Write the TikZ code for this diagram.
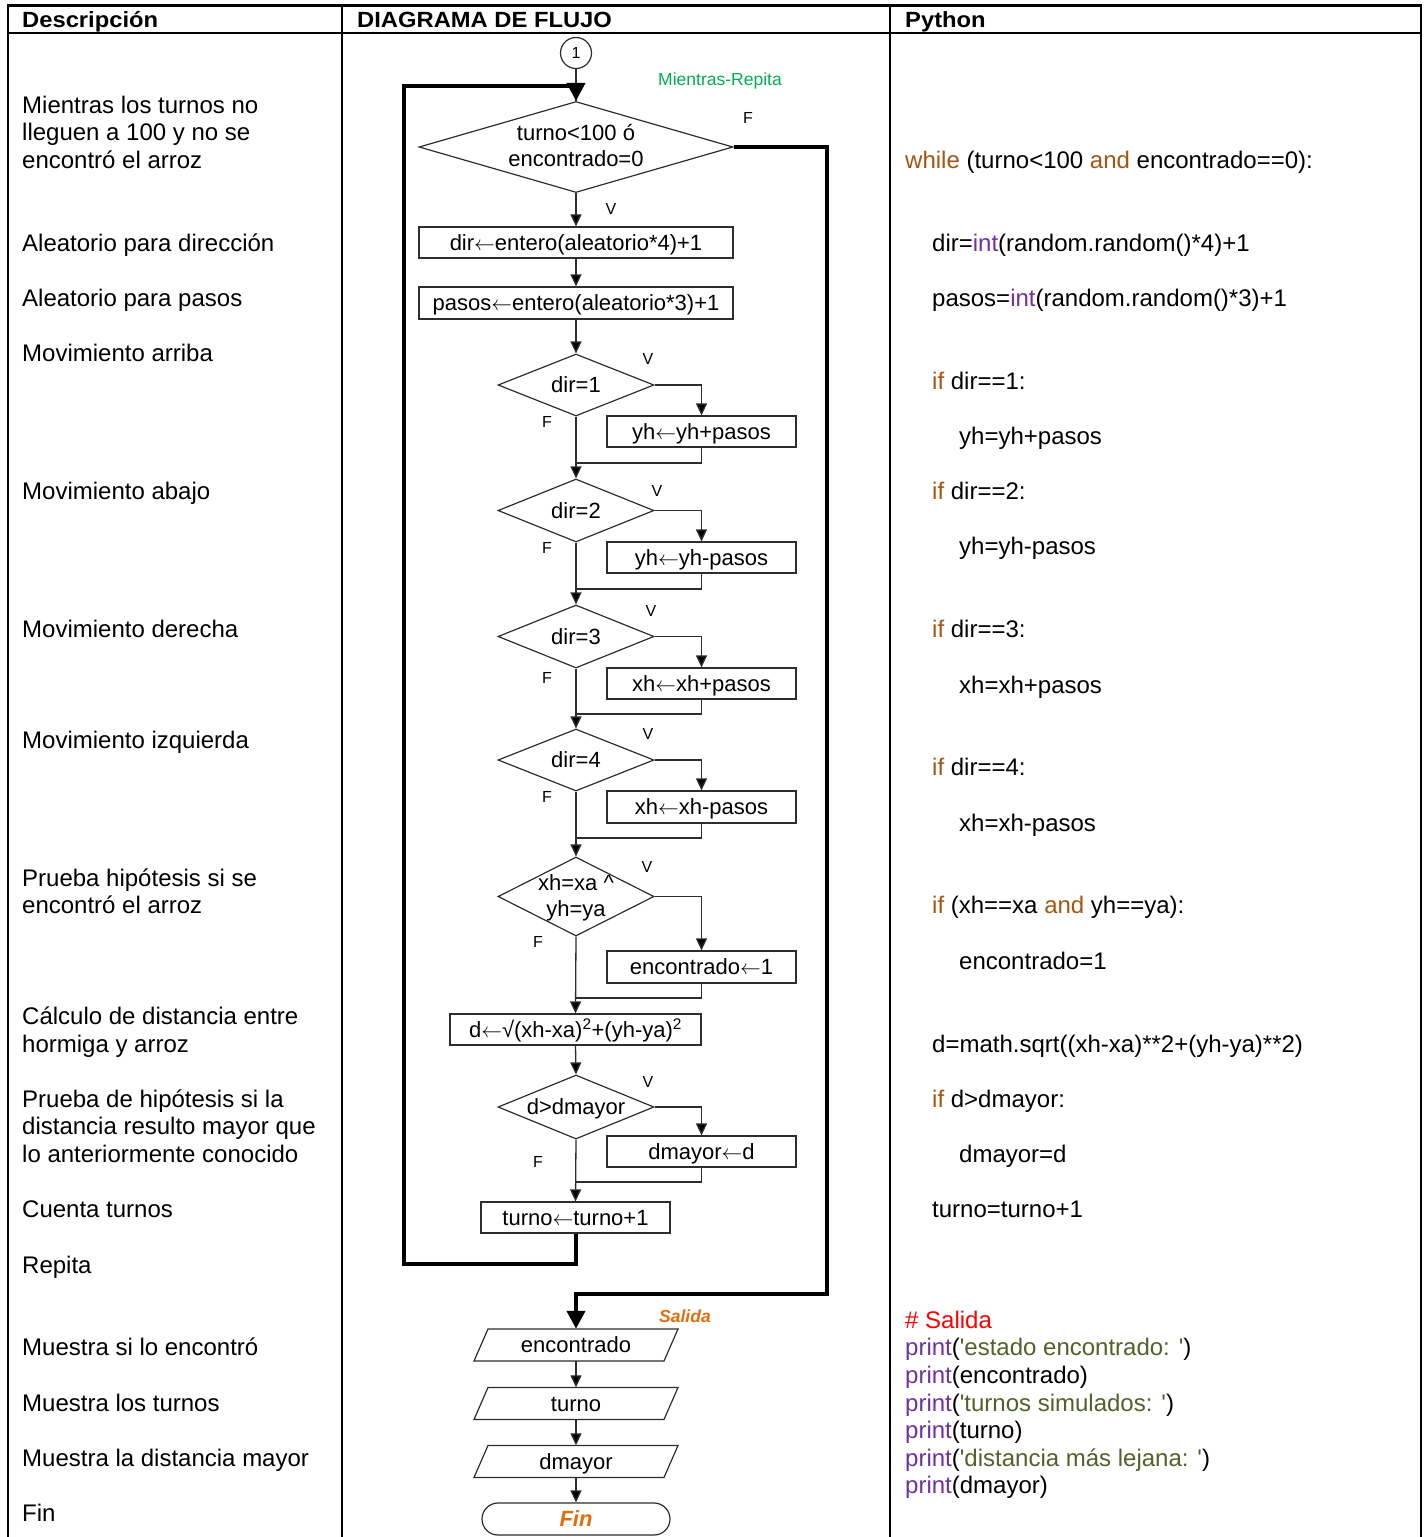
\documentclass[tikz,border=0pt]{standalone}
\usepackage{fontspec}
\setmainfont{Liberation Sans}
\usepackage{graphicx}
\usetikzlibrary{arrows.meta,shapes.geometric,calc}
\definecolor{kwc}{RGB}{166,84,18}
\definecolor{fnc}{RGB}{112,48,160}
\definecolor{stc}{RGB}{79,98,40}
\definecolor{grn}{RGB}{0,176,80}
\definecolor{org}{RGB}{228,108,10}
\definecolor{edgec}{RGB}{45,45,45}
\newcommand\kw[1]{\textcolor{kwc}{#1}}
\newcommand\fnn[1]{\textcolor{fnc}{#1}}
\newcommand\st[1]{\textcolor{stc}{#1}}
\newcommand\sqq{\textquotesingle}
\newcommand\larr{\ensuremath{\leftarrow}}
\newcommand\drawpara[1]{\draw[edgec,line width=1.2pt] ($(#1.center)+(-88,-16)$) -- ($(#1.center)+(102,-16)$) -- ($(#1.center)+(88,16)$) -- ($(#1.center)+(-102,16)$) -- cycle;}
\begin{document}
\begin{tikzpicture}[x=1pt,y=-1pt,
  desc/.style={anchor=base west,inner sep=0pt,font=\fontsize{24}{28}\selectfont},
  code/.style={anchor=base west,inner sep=0pt,font=\fontsize{24}{28}\selectfont},
  hdr/.style={anchor=base west,inner sep=0pt,font=\fontsize{22}{26}\selectfont\bfseries},
  tline/.style={line width=2pt,black},
  fbox/.style={draw=edgec,line width=1.2pt,rectangle,inner sep=0pt,minimum height=31pt,font=\fontsize{22}{26}\selectfont,text height=17pt,text depth=2pt},
  ftext/.style={inner sep=0pt,font=\fontsize{22}{26}\selectfont,text height=17pt,text depth=2pt},
  dia/.style={draw=edgec,line width=1.2pt,diamond,inner sep=0pt},
  pnode/.style={rectangle,inner sep=0pt,minimum width=176pt,minimum height=32pt,font=\fontsize{22}{26}\selectfont,text height=17pt,text depth=2pt},
  lab/.style={inner sep=0pt,font=\fontsize{16}{18}\selectfont},
  flow/.style={edgec,line width=1.3pt},
  arr/.style={edgec,line width=1.3pt,-{Triangle[width=11pt,length=12pt,fill=black]}},
  thickarr/.style={black,line width=4pt,-{Triangle[width=18pt,length=18pt]}},
]
\useasboundingbox (0,0) rectangle (1426,1537);
% table
\draw[line width=3pt] (7,5) -- (1422,5);
\draw[tline] (8,33) -- (1421,33);
\foreach \xx in {8,342,890,1421} \draw[tline] (\xx,4) -- (\xx,1537);
\node[hdr] (h1) at (22,27.5) {\scalebox{1.08}[1]{Descripción}};
\node[hdr] (h2) at (357,27.5) {\scalebox{1.08}[1]{DIAGRAMA DE FLUJO}};
\node[hdr] (h3) at (905,27.5) {\scalebox{1.08}[1]{Python}};
% descriptions
\foreach \yy/\dtxt [count=\i] in {113/Mientras los turnos no,140/lleguen a 100 y no se,168/encontró el arroz,251/Aleatorio para dirección,306/Aleatorio para pasos,361/Movimiento arriba,499/Movimiento abajo,637/Movimiento derecha,748/Movimiento izquierda,886/Prueba hipótesis si se,913/encontró el arroz,1024/Cálculo de distancia entre,1052/hormiga y arroz,1107/Prueba de hipótesis si la,1134/distancia resulto mayor que,1162/lo anteriormente conocido,1217/Cuenta turnos,1273/Repita,1355/Muestra si lo encontró,1411/Muestra los turnos,1466/Muestra la distancia mayor,1521/Fin}
  \node[desc] (dsc\i) at (22,\yy) {\dtxt};
% python
\node[code] (py1) at (905,168) {\kw{while} (turno<100 \kw{and} encontrado==0):};
\node[code] (py2) at (932,251) {dir=\fnn{int}(random.random()*4)+1};
\node[code] (py3) at (932,306) {pasos=\fnn{int}(random.random()*3)+1};
\node[code] (py4) at (932,389) {\kw{if} dir==1:};
\node[code] (py5) at (959,444) {yh=yh+pasos};
\node[code] (py6) at (932,499) {\kw{if} dir==2:};
\node[code] (py7) at (959,554) {yh=yh-pasos};
\node[code] (py8) at (932,637) {\kw{if} dir==3:};
\node[code] (py9) at (959,693) {xh=xh+pasos};
\node[code] (py10) at (932,775) {\kw{if} dir==4:};
\node[code] (py11) at (959,831) {xh=xh-pasos};
\node[code] (py12) at (932,913) {\kw{if} (xh==xa \kw{and} yh==ya):};
\node[code] (py13) at (959,969) {encontrado=1};
\node[code] (py14) at (932,1052) {d=math.sqrt((xh-xa)**2+(yh-ya)**2)};
\node[code] (py15) at (932,1107) {\kw{if} d>dmayor:};
\node[code] (py16) at (959,1162) {dmayor=d};
\node[code] (py17) at (932,1217) {turno=turno+1};
\node[code] (py18) at (905,1328) {\textcolor{red}{\# Salida}};
\node[code] (py19) at (905,1355) {\fnn{print}(\st{\sqq estado encontrado: \sqq})};
\node[code] (py20) at (905,1383) {\fnn{print}(encontrado)};
\node[code] (py21) at (905,1411) {\fnn{print}(\st{\sqq turnos simulados: \sqq})};
\node[code] (py22) at (905,1438) {\fnn{print}(turno)};
\node[code] (py23) at (905,1466) {\fnn{print}(\st{\sqq distancia más lejana: \sqq})};
\node[code] (py24) at (905,1493) {\fnn{print}(dmayor)};
% flowchart nodes
\node[draw=edgec,line width=1.2pt,circle,minimum size=31pt,inner sep=0pt,font=\fontsize{16}{18}\selectfont] (c1) at (576,53) {1};
\node[dia,minimum width=314pt,minimum height=91pt] (d0) at (576,147) {};
\node[ftext] (d0a) at (576,133) {turno<100 ó};
\node[ftext] (d0b) at (576,159) {encontrado=0};
\node[fbox,minimum width=314pt] (b0) at (576,242.5) {dir\larr entero(aleatorio*4)+1};
\node[fbox,minimum width=314pt,minimum height=32pt] (b0b) at (576,303) {pasos\larr entero(aleatorio*3)+1};
\node[dia,minimum width=156pt,minimum height=62pt] (d1) at (576,385) {};
\node[ftext] (d1t) at (d1) {dir=1};
\node[fbox,minimum width=189pt] (b1) at (701.5,431.5) {yh\larr yh+pasos};
\node[dia,minimum width=156pt,minimum height=63pt] (d2) at (576,510.5) {};
\node[ftext] (d2t) at (d2) {dir=2};
\node[fbox,minimum width=189pt] (b2) at (701.5,557.5) {yh\larr yh-pasos};
\node[dia,minimum width=156pt,minimum height=63pt] (d3) at (576,636.5) {};
\node[ftext] (d3t) at (d3) {dir=3};
\node[fbox,minimum width=189pt] (b3) at (701.5,683.5) {xh\larr xh+pasos};
\node[dia,minimum width=156pt,minimum height=62pt] (d4) at (576,760) {};
\node[ftext] (d4t) at (d4) {dir=4};
\node[fbox,minimum width=189pt,minimum height=32pt] (b4) at (701.5,807) {xh\larr xh-pasos};
\node[dia,minimum width=156pt,minimum height=79pt] (d5) at (576,896.5) {};
\node[ftext] (d5a) at (576,883) {xh=xa \textasciicircum};
\node[ftext] (d5b) at (576,909) {yh=ya};
\node[fbox,minimum width=189pt,minimum height=32pt] (b5) at (701.5,967) {encontrado\larr 1};
\node[fbox,minimum width=251pt] (b6) at (575.5,1029.5) {d\larr √(xh-xa)\textsuperscript{2}+(yh-ya)\textsuperscript{2}};
\node[dia,minimum width=156pt,minimum height=64pt] (d6) at (576,1107) {};
\node[ftext] (d6t) at (d6) {d>dmayor};
\node[fbox,minimum width=189pt] (b7) at (701.5,1151.5) {dmayor\larr d};
\node[fbox,minimum width=189pt] (b8) at (575.5,1217.5) {turno\larr turno+1};
\node[pnode] (p1) at (576,1345) {encontrado};
\node[pnode] (p2) at (576,1403.5) {turno};
\node[pnode] (p3) at (576,1461.5) {dmayor};
\drawpara{p1}\drawpara{p2}\drawpara{p3}
\node[draw=edgec,line width=1.2pt,rectangle,rounded corners=16pt,minimum width=188pt,minimum height=32pt,inner sep=0pt,font=\fontsize{22}{26}\selectfont\bfseries\itshape,text=org,text height=17pt,text depth=2pt] (fin) at (576,1519) {Fin};
% labels
\node[inner sep=0pt,font=\fontsize{17.5}{20}\selectfont,text=grn] (mr) at (720,81) {Mientras-Repita};
\node[inner sep=0pt,font=\fontsize{17.5}{20}\selectfont\bfseries\itshape,text=org] (sal) at (685,1316) {Salida};
\node[lab] (f0) at (748,118) {F};
\node[lab] (v0) at (611,209) {V};
\node[lab] (v1) at (648,359) {V};
\node[lab] (f1) at (547,422) {F};
\node[lab] (v2) at (657,491) {V};
\node[lab] (f2) at (547,548) {F};
\node[lab] (v3) at (651,611) {V};
\node[lab] (f3) at (547,678) {F};
\node[lab] (v4) at (648,734) {V};
\node[lab] (f4) at (547,797) {F};
\node[lab] (v5) at (647,867) {V};
\node[lab] (f5) at (538,942) {F};
\node[lab] (v6) at (648,1082) {V};
\node[lab] (f6) at (538,1162) {F};
% merge coordinates
\coordinate (m1) at (576,463);
\coordinate (m2) at (576,589);
\coordinate (m3) at (576,714);
\coordinate (m4) at (576,838);
\coordinate (m5) at (576,998);
\coordinate (m6) at (576,1182);
\coordinate (loopA) at (404,1264);
\coordinate (loopB) at (404,86);
\coordinate (exA) at (827,1294);
% connectors
\draw[flow] (c1) -- (d0.north);
\draw[arr] (d0) -- (b0);
\draw[arr] (b0) -- (b0b);
\draw[arr] (b0b) -- (d1);
\draw[arr] (d1.east) -| (b1.north);
\draw[flow] (b1.south) |- (m1);
\draw[arr] (d1.south) -- (d2.north);
\draw[arr] (d2.east) -| (b2.north);
\draw[flow] (b2.south) |- (m2);
\draw[arr] (d2.south) -- (d3.north);
\draw[arr] (d3.east) -| (b3.north);
\draw[flow] (b3.south) |- (m3);
\draw[arr] (d3.south) -- (d4.north);
\draw[arr] (d4.east) -| (b4.north);
\draw[flow] (b4.south) |- (m4);
\draw[arr] (d4.south) -- (d5.north);
\draw[arr] (d5.east) -| (b5.north);
\draw[flow] (b5.south) |- (m5);
\draw[arr] (d5.south) -- (b6.north);
\draw[arr] (b6.south) -- (d6.north);
\draw[arr] (d6.east) -| (b7.north);
\draw[flow] (b7.south) |- (m6);
\draw[arr] (d6.south) -- (b8.north);
\draw[thickarr] (b8.south) |- (loopA) -- (loopB) -| (d0.north);
\draw[thickarr] (d0.east) -| (exA) -| (p1.north);
\draw[arr] (p1.south) -- (p2.north);
\draw[arr] (p2.south) -- (p3.north);
\draw[arr] (p3.south) -- (fin.north);
\end{tikzpicture}
\end{document}
